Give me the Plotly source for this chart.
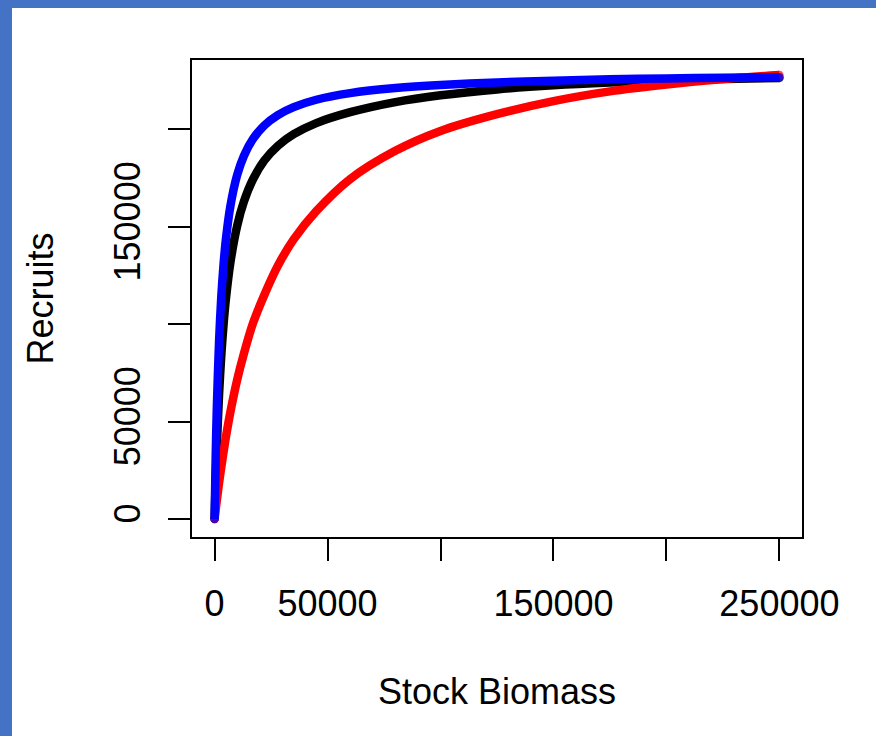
import plotly.graph_objects as go

# Stock biomass values (x)
stock = [0, 500, 1000, 2000, 3000, 4000, 5000, 7000, 10000, 13000, 17000, 22000,
         28000, 35000, 45000, 60000, 80000, 100000, 125000, 150000, 175000,
         200000, 225000, 250000]

# Recruits for each curve
recruits_black = [0, 20500, 37600, 64500, 84600, 100300, 112900, 131700, 150500,
                  163000, 174400, 184000, 191500, 197500, 203200, 208800, 214000,
                  217500, 220500, 222600, 224000, 225000, 225800, 226400]
recruits_red = [0, 4900, 9700, 18700, 27000, 34700, 42000, 55000, 71500, 85000,
                100500, 115000, 130000, 143500, 158000, 174500, 189000, 199200,
                207800, 214500, 219500, 223000, 225800, 227900]
recruits_blue = [0, 32800, 57400, 91800, 114800, 131200, 143500, 160700, 176600,
                 186500, 195100, 202000, 207300, 211400, 215200, 218600, 221200,
                 222800, 224100, 225000, 225700, 226100, 226500, 226800]

x_ticks = [0, 50000, 100000, 150000, 200000, 250000]
x_tick_text = ["0", "50000", "", "150000", "", "250000"]
y_ticks = [0, 50000, 100000, 150000, 200000]
y_tick_text = ["0", "50000", "", "150000", ""]

FONT = "Arial, Liberation Sans, sans-serif"
LW = 8.5

fig = go.Figure()
for ys, col in [(recruits_black, "black"), (recruits_red, "#ff0000"), (recruits_blue, "#0000ff")]:
    n = len(ys)
    fig.add_trace(go.Scatter(
        x=stock, y=ys, mode="lines+markers",
        line=dict(color=col, width=LW, shape="spline", smoothing=0.8),
        marker=dict(size=[LW] + [0] * (n - 2) + [LW], color=col, line=dict(width=0)),
        showlegend=False, hoverinfo="skip",
    ))

axis_common = dict(
    showgrid=False, zeroline=False, showline=True, linecolor="black", linewidth=2,
    mirror=True, ticks="outside", ticklen=22, tickwidth=2, tickcolor="black",
    tickfont=dict(family=FONT, size=36, color="black"),
)

fig.update_layout(
    width=876, height=736,
    margin=dict(l=192, r=74, t=60, b=199),
    paper_bgcolor="white", plot_bgcolor="white",
    xaxis=dict(range=[-10000, 260000], tickmode="array", tickvals=x_ticks,
               ticktext=x_tick_text, ticklabelstandoff=12, **axis_common),
    yaxis=dict(range=[-9240, 235600], tickmode="array", tickvals=y_ticks,
               ticktext=y_tick_text, tickangle=-90, ticklabelstandoff=14, **axis_common),
    annotations=[
        dict(text="Recruits", xref="paper", yref="paper", x=(40 - 192) / 610, y=0.5,
             xanchor="center", yanchor="middle", textangle=-90, showarrow=False,
             font=dict(family=FONT, size=36, color="black")),
        dict(text="Stock Biomass", xref="paper", yref="paper", x=0.5, y=(537 - 691) / 477,
             xanchor="center", yanchor="middle", showarrow=False,
             font=dict(family=FONT, size=36, color="black")),
    ],
    shapes=[
        dict(type="rect", xref="paper", yref="paper", x0=(0 - 192) / 610, x1=(12 - 192) / 610,
             y0=(537 - 736) / 477, y1=(537 - 0) / 477, fillcolor="#4472C4", line=dict(width=0),
             layer="above"),
        dict(type="rect", xref="paper", yref="paper", x0=(0 - 192) / 610, x1=(876 - 192) / 610,
             y0=(537 - 8) / 477, y1=(537 - 0) / 477, fillcolor="#4472C4", line=dict(width=0),
             layer="above"),
    ],
)

fig.write_html("out.html", config={"displayModeBar": False},
               post_script="document.body.style.margin='0';document.body.style.overflow='hidden';")
